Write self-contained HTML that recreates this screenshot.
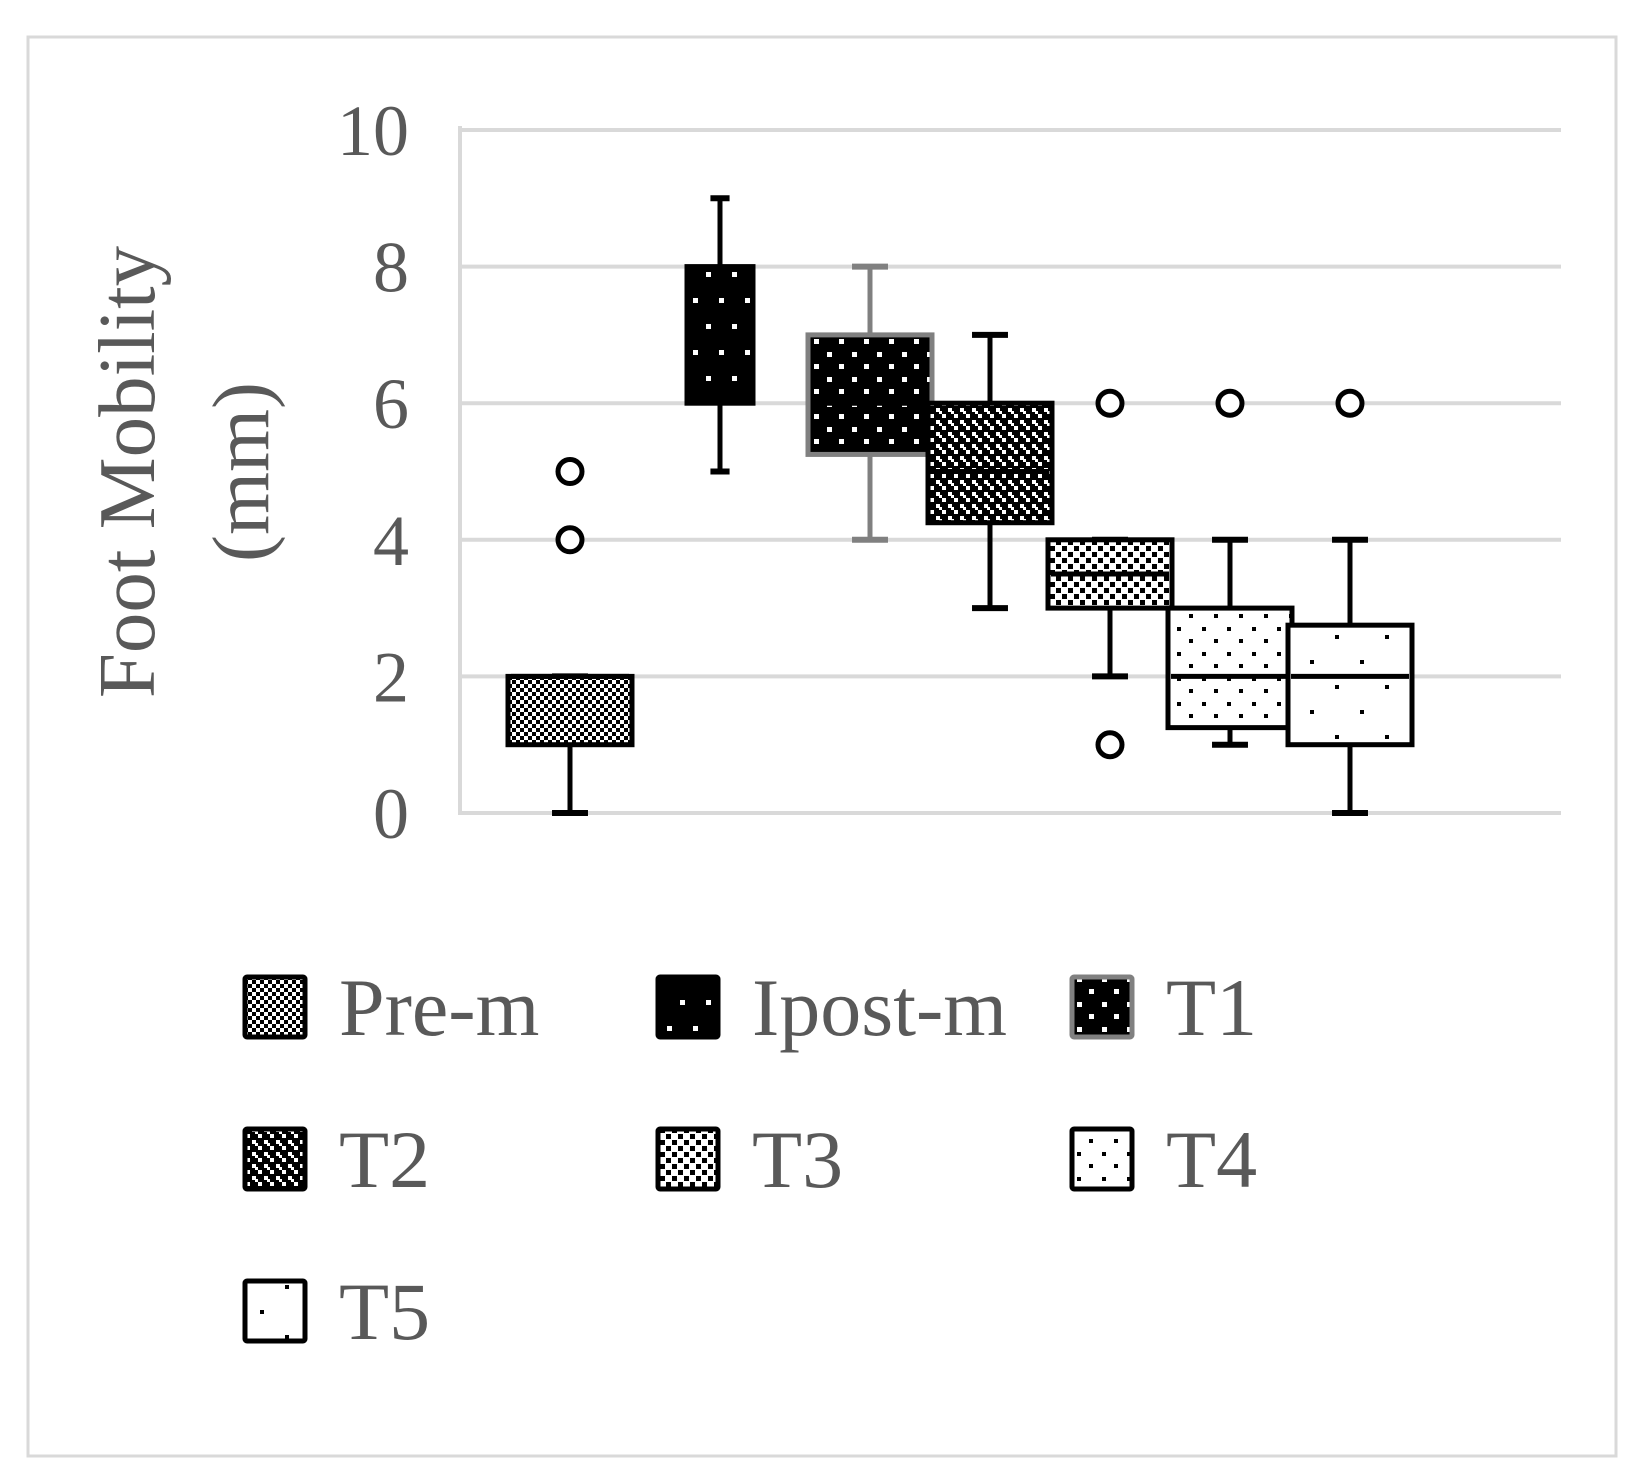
<!DOCTYPE html>
<html><head><meta charset="utf-8"><style>
html,body{margin:0;padding:0;background:#fff;}
svg{display:block;}
text{font-family:"Liberation Serif",serif;fill:#595959;}
</style></head><body>
<svg id="chart" width="1637" height="1480" viewBox="0 0 1637 1480">
<defs>
 <pattern id="p-prem" width="8" height="8" patternUnits="userSpaceOnUse"><rect width="8" height="8" fill="#fff"/><rect width="4" height="4" fill="#000"/><rect x="4" y="4" width="4" height="4" fill="#000"/></pattern>
 <pattern id="p-ipost" width="26" height="52" patternUnits="userSpaceOnUse"><rect width="26" height="52" fill="#000"/><rect x="4" y="12" width="5" height="5" fill="#fff"/><rect x="17" y="38" width="5" height="5" fill="#fff"/></pattern>
 <pattern id="p-t1" width="25" height="25" patternUnits="userSpaceOnUse"><rect width="25" height="25" fill="#000"/><rect x="2" y="2" width="5" height="5" fill="#fff"/><rect x="14" y="14" width="5" height="5" fill="#fff"/></pattern>
 <pattern id="p-t2" width="12" height="12" patternUnits="userSpaceOnUse"><rect width="12" height="12" fill="#000"/><rect x="0" y="0" width="4" height="4" fill="#fff"/><rect x="6" y="6" width="4" height="4" fill="#fff"/><rect x="3" y="3" width="3" height="3" fill="#fff"/></pattern>
 <pattern id="p-t3" width="12" height="12" patternUnits="userSpaceOnUse"><rect width="12" height="12" fill="#fff"/><rect x="0" y="0" width="5" height="5" fill="#000"/><rect x="6" y="6" width="5" height="5" fill="#000"/></pattern>
 <pattern id="p-t4" width="25" height="25" patternUnits="userSpaceOnUse"><rect width="25" height="25" fill="#fff"/><rect x="2" y="2" width="4" height="4" fill="#000"/><rect x="14" y="14" width="4" height="4" fill="#000"/></pattern>
 <pattern id="p-t5" width="50" height="50" patternUnits="userSpaceOnUse"><rect width="50" height="50" fill="#fff"/><rect x="10" y="10" width="4" height="4" fill="#000"/><rect x="35" y="35" width="4" height="4" fill="#000"/></pattern>
</defs>
<rect x="28" y="37" width="1588" height="1419" fill="#fff" stroke="#d9d9d9" stroke-width="3"/>
<g id="grid"></g>
<g id="yticks"></g>
<text x="0" y="0" font-size="81" text-anchor="middle" transform="translate(154,472) rotate(-90)">Foot Mobility</text>
<text x="0" y="0" font-size="81" text-anchor="middle" transform="translate(268,472) rotate(-90)">(mm)</text>
<g id="boxes"></g>
<g id="legend"></g>
</svg>
<script>
const categories = ["Pre-m","Ipost-m","T1","T2","T3","T4","T5"];
const mins    = [0, 5, 4, 3, 2, 1, 0];
const q1s     = [1, 6, 5.25, 4.25, 3, 1.25, 1];
const medians = [2, 7, 6, 5, 3.5, 2, 2];
const q3s     = [2, 8, 7, 6, 4, 3, 2.75];
const maxs    = [2, 9, 8, 7, 4, 4, 4];
const outliers = [[4,5],[],[],[],[6,1],[6],[6]];
const yTicks = [0,2,4,6,8,10];

const patterns = ["p-prem","p-ipost","p-t1","p-t2","p-t3","p-t4","p-t5"];
const strokes = ["#000","#000","#808080","#000","#000","#000","#000"];
const centers = [570,720,870,990,1110,1230,1350];
const widths = [124,66,124,124,124,124,124];
const NS="http://www.w3.org/2000/svg";
const y0=813, y10=130, xL=460, xR=1561;
function yScale(v){return y0-(v/10)*(y0-y10);}
function mk(tag,attrs,parent){const e=document.createElementNS(NS,tag);for(const k in attrs)e.setAttribute(k,attrs[k]);parent.appendChild(e);return e;}

const grid=document.getElementById('grid'), yt=document.getElementById('yticks');
yTicks.forEach(t=>{
 const l=mk('line',{x1:xL,x2:xR,y1:yScale(t),y2:yScale(t),stroke:'#d9d9d9','stroke-width':4},grid);
 
 
 const tx=mk('text',{x:409,y:yScale(t)+25,'font-size':72,'text-anchor':'end'},yt);
 tx.textContent=t;
 
 
});
const ax=mk('line',{x1:xL,x2:xL,y1:y10-4,y2:y0+2,stroke:'#d9d9d9',"stroke-width":4},grid);



const boxes=document.getElementById('boxes');
categories.forEach((c,i)=>{
 const g=mk('g',{},boxes);
 
 
 const cx=centers[i], w=widths[i], s=strokes[i], cap=w*0.29;
 mk('line',{x1:cx,x2:cx,y1:yScale(maxs[i]),y2:yScale(q3s[i]),stroke:s,'stroke-width':5},g);
 mk('line',{x1:cx,x2:cx,y1:yScale(q1s[i]),y2:yScale(mins[i]),stroke:s,'stroke-width':5},g);
 mk('line',{x1:cx-cap/2,x2:cx+cap/2,y1:yScale(maxs[i]),y2:yScale(maxs[i]),stroke:s,'stroke-width':6},g);
 mk('line',{x1:cx-cap/2,x2:cx+cap/2,y1:yScale(mins[i]),y2:yScale(mins[i]),stroke:s,'stroke-width':6},g);
 mk('rect',{x:cx-w/2,y:yScale(q3s[i]),width:w,height:yScale(q1s[i])-yScale(q3s[i]),fill:'url(#'+patterns[i]+')',stroke:s,'stroke-width':5},g);
 mk('line',{x1:cx-w/2+3,x2:cx+w/2-3,y1:yScale(medians[i]),y2:yScale(medians[i]),stroke:'#000','stroke-width':5},g);
 outliers[i].forEach(v=>{
  const o=mk('circle',{cx:cx,cy:yScale(v),r:12,fill:'#fff',stroke:'#000','stroke-width':5},g);
  
  
 });
});

const leg=document.getElementById('legend');
const colX=[245,658,1072], rowY=[1007,1159,1311];
categories.forEach((c,i)=>{
 const col=i%3,row=Math.floor(i/3);
 const g=mk('g',{},leg);
 
 
 mk('rect',{x:colX[col],y:rowY[row]-30,width:60,height:60,fill:'url(#'+patterns[i]+')',stroke:strokes[i],'stroke-width':5,rx:2},g);
 const t=mk('text',{x:colX[col]+94,y:rowY[row]+28,'font-size':82},g);
 t.textContent=c;
});
</script>
</body></html>
